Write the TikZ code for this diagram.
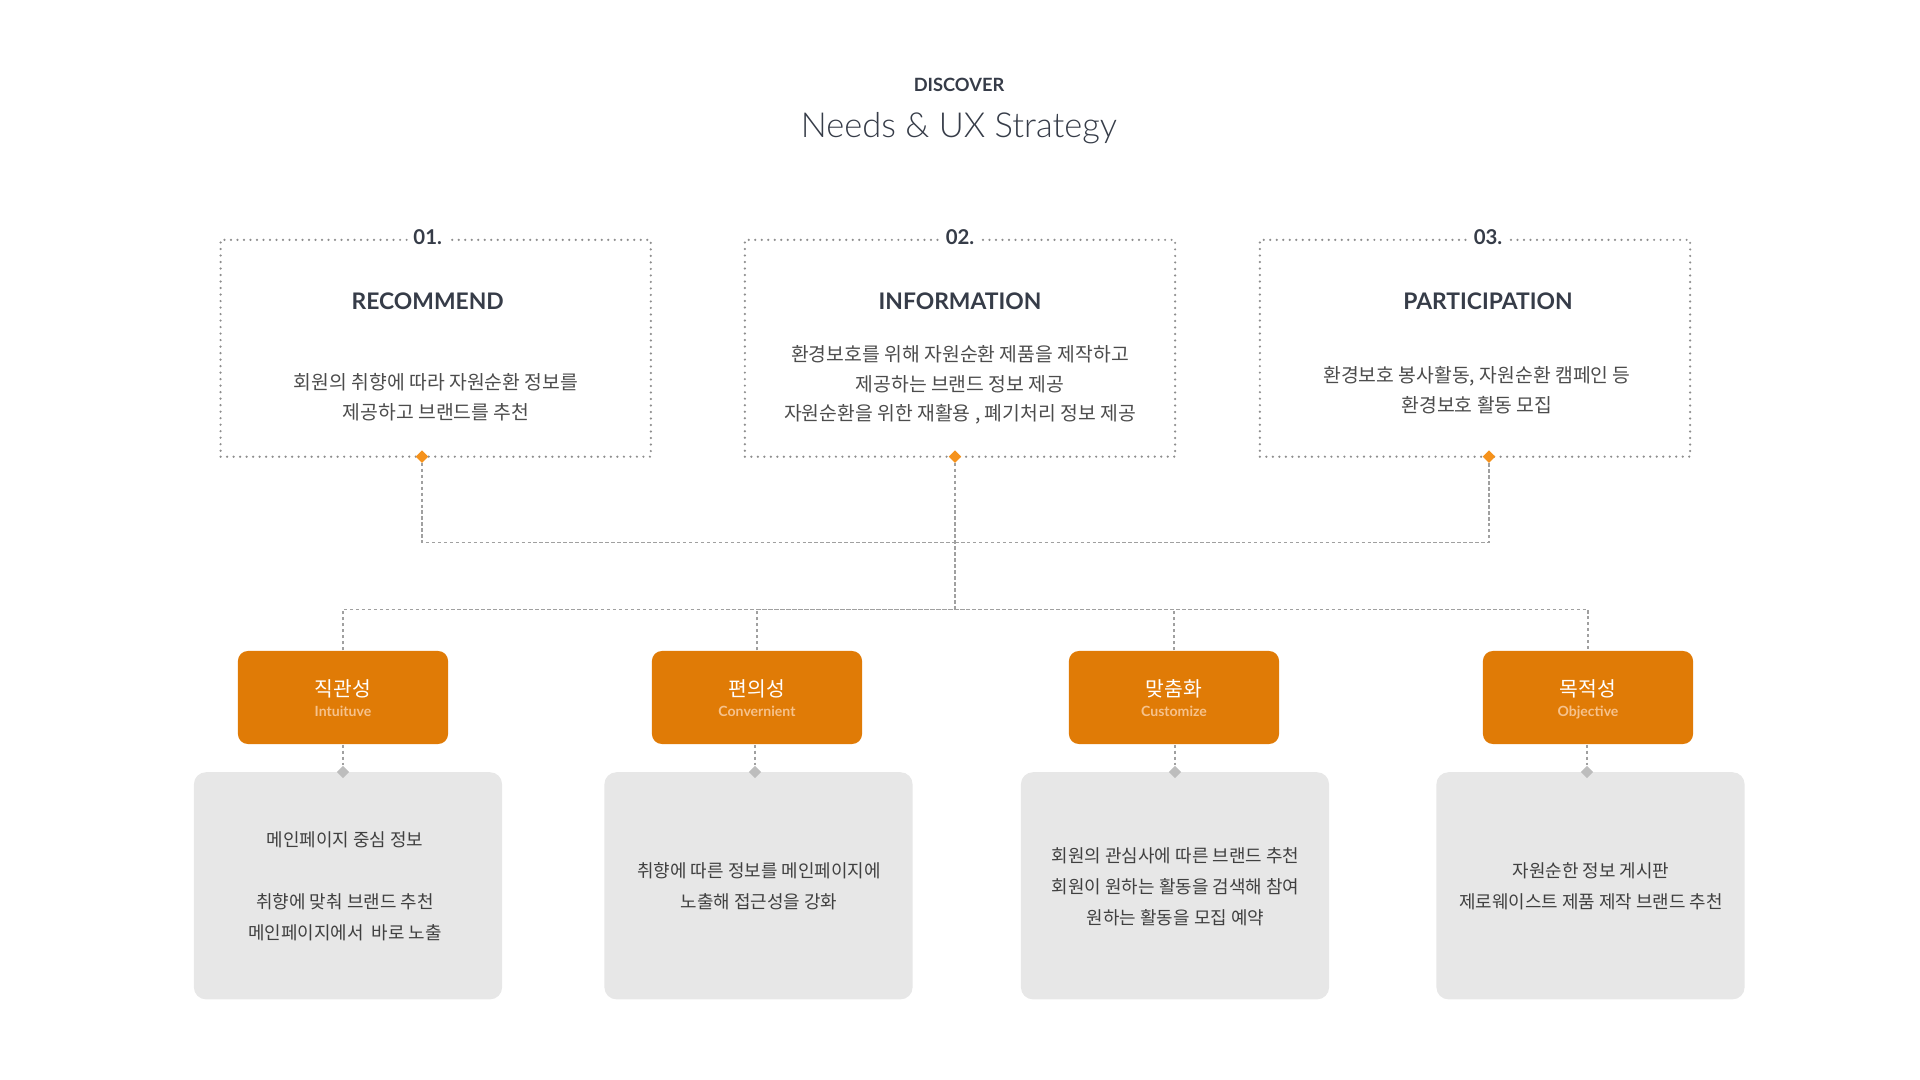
\documentclass[tikz,border=0pt]{standalone}
\usepackage{fontspec}
\setmainfont{Lato}
\newfontfamily\krfont{Noto Sans CJK KR}
\newfontfamily\lightfont{Lato Light}
\usetikzlibrary{shapes.geometric}
\definecolor{ink}{HTML}{363C48}
\definecolor{bodygray}{HTML}{4C4C4C}
\definecolor{textgray}{HTML}{404040}
\definecolor{dotgray}{HTML}{8E8E8E}
\definecolor{linkgray}{HTML}{A0A0A0}
\definecolor{dotorange}{HTML}{F5921C}
\definecolor{diagray}{HTML}{BDBDBD}
\definecolor{boxorange}{HTML}{E07B06}
\definecolor{paleorange}{HTML}{F6C28C}
\definecolor{boxgray}{HTML}{E7E7E7}
\begin{document}
\begin{tikzpicture}[x=0.01cm,y=-0.01cm,
	topbox/.style={draw=dotgray,line width=0.7pt,line cap=round,dash pattern=on 0pt off 1.85pt,minimum width=4.3cm,minimum height=2.167cm,inner sep=0pt},
	numlabel/.style={fill=white,inner sep=1.6pt,text=ink,font=\bfseries\fontsize{5.8}{6}\selectfont},
	head/.style={text=ink,font=\bfseries\fontsize{6.5}{7}\selectfont},
	body/.style={text=bodygray,align=center,font=\krfont\fontsize{5.5}{8.4}\selectfont},
	odia/.style={diamond,fill=dotorange,minimum size=0.13cm,inner sep=0pt},
	gdia/.style={diamond,fill=diagray,minimum size=0.13cm,inner sep=0pt},
	obox/.style={fill=boxorange,rounded corners=0.1cm,minimum width=2.1cm,minimum height=0.93cm},
	ktitle/.style={text=white,font=\krfont\fontsize{5.8}{6}\selectfont},
	etitle/.style={text=paleorange,anchor=base,font=\bfseries\fontsize{4}{5}\selectfont},
	gbox/.style={fill=boxgray,rounded corners=0.12cm,minimum width=3.08cm,minimum height=2.27cm},
	gtext/.style={text=textgray,align=center,font=\krfont\fontsize{5.1}{8.8}\selectfont},
	link/.style={draw=linkgray,line width=0.3pt,dash pattern=on 1pt off 0.7pt}]
	\useasboundingbox (0,0) rectangle (1920,1080);
	\node[text=ink,font=\bfseries\fontsize{5.2}{6}\selectfont] (kicker) at (959,85) {DISCOVER};
	\node[text=ink,font=\lightfont\fontsize{9.8}{10}\selectfont] (title) at (959,128) {Needs \& UX Strategy};
	% top boxes
	\node[topbox] (rec) at (435.7,348.3) {};
	\node[topbox] (inf) at (960,348.3) {};
	\node[topbox] (par) at (1475,348.3) {};
	\node[numlabel] (n1) at (427.7,237) {01.};
	\node[numlabel] (n2) at (960,237) {02.};
	\node[numlabel] (n3) at (1488,237) {03.};
	\node[head] (h1) at (427.7,301.7) {RECOMMEND};
	\node[head] (h2) at (960,301.7) {INFORMATION};
	\node[head] (h3) at (1488,301.7) {PARTICIPATION};
	\node[body] (t1) at (436,397) {회원의 취향에 따라 자원순환 정보를\\제공하고 브랜드를 추천};
	\node[body] (t2) at (960,385) {환경보호를 위해 자원순환 제품을 제작하고\\제공하는 브랜드 정보 제공\\자원순환을 위한 재활용 , 폐기처리 정보 제공};
	\node[body] (t3) at (1477,390) {환경보호 봉사활동, 자원순환 캠페인 등\\환경보호 활동 모집};
	% bottom boxes
	\node[obox] (o1) at (343,697.5) {};
	\node[obox] (o2) at (757,697.5) {};
	\node[obox] (o3) at (1174,697.5) {};
	\node[obox] (o4) at (1588,697.5) {};
	\node[ktitle] (k1) at (343,689) {직관성};
	\node[etitle] (e1) at (343,717) {Intuituve};
	\node[ktitle] (k2) at (757,689) {편의성};
	\node[etitle] (e2) at (757,717) {Convernient};
	\node[ktitle] (k3) at (1174,689) {맞춤화};
	\node[etitle] (e3) at (1174,717) {Customize};
	\node[ktitle] (k4) at (1588,689) {목적성};
	\node[etitle] (e4) at (1588,717) {Objective};
	\node[gbox] (g1) at (348,885.8) {};
	\node[gbox] (g2) at (758.5,885.8) {};
	\node[gbox] (g3) at (1175,885.8) {};
	\node[gbox] (g4) at (1590.5,885.8) {};
	\node[gtext] (s1) at (345,886.5) {메인페이지 중심 정보\\ \\취향에 맞춰 브랜드 추천\\메인페이지에서~ 바로 노출};
	\node[gtext] (s2) at (759,886) {취향에 따른 정보를 메인페이지에\\노출해 접근성을 강화};
	\node[gtext] (s3) at (1175.5,886.7) {회원의 관심사에 따른 브랜드 추천\\회원이 원하는 활동을 검색해 참여\\원하는 활동을 모집 예약};
	\node[gtext] (s4) at (1591,886) {자원순한 정보 게시판\\제로웨이스트 제품 제작 브랜드 추천};
	% connectors
	\coordinate (busT) at (955,542.5);
	\coordinate (busB) at (955,609.3);
	\draw[link] (422,456.7) coordinate (a1) |- (busT);
	\draw[link] (busT) -| (1489,456.7) coordinate (a3);
	\draw[link] (955,456.7) coordinate (a2) -- (busB);
	\draw[link] (o1.north) |- (busB);
	\draw[link] (o2.north) |- (busB);
	\draw[link] (o3.north) |- (busB);
	\draw[link] (busB) -| (o4.north);
	\node[gdia] (gd1) at (343,772) {};
	\node[gdia] (gd2) at (755,772) {};
	\node[gdia] (gd3) at (1175,772) {};
	\node[gdia] (gd4) at (1587,772) {};
	\draw[link] (o1) -- (gd1);
	\draw[link] (o2.south -| gd2) -- (gd2);
	\draw[link] (o3.south -| gd3) -- (gd3);
	\draw[link] (o4.south -| gd4) -- (gd4);
	\node[odia] (d1) at (a1) {};
	\node[odia] (d2) at (a2) {};
	\node[odia] (d3) at (a3) {};
\end{tikzpicture}
\end{document}
